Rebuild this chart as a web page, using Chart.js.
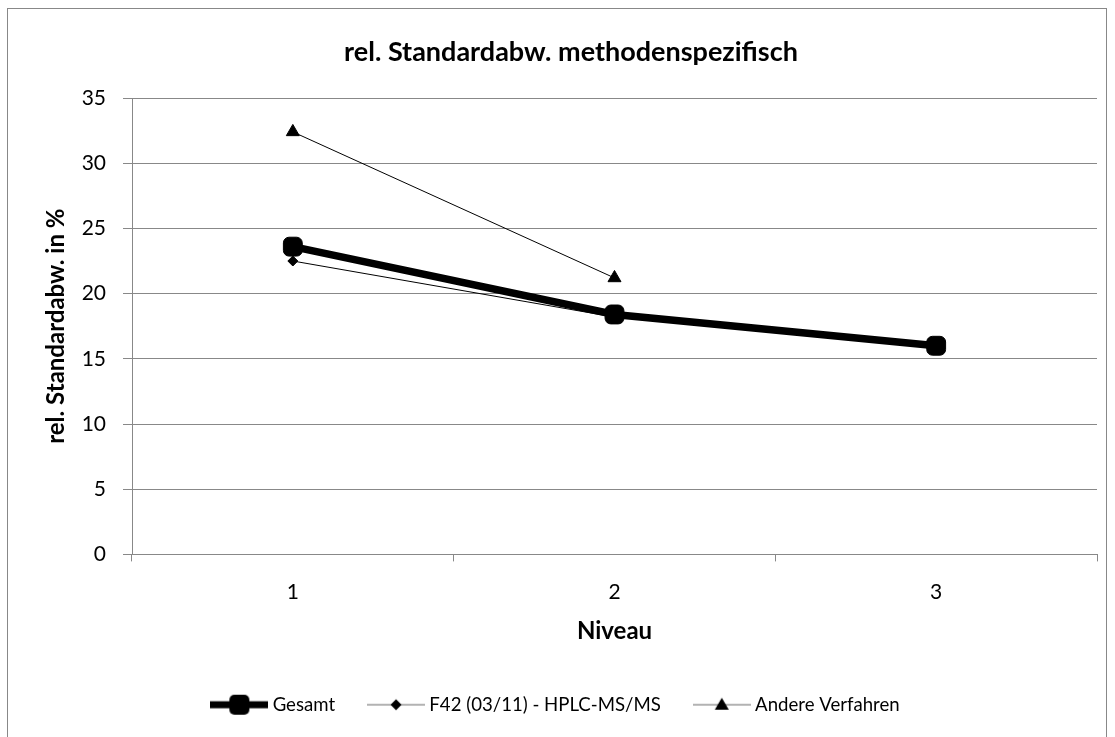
<!DOCTYPE html>
<html>
<head>
<meta charset="utf-8">
<script src="https://cdn.jsdelivr.net/npm/chart.js@4/dist/chart.umd.min.js"></script>
<style>
  html, body { margin: 0; padding: 0; background: #fff; }
  #wrap { position: relative; width: 1115px; height: 737px; overflow: hidden; }
  #frame { position: absolute; left: 7px; top: 8px; width: 1100px; height: 760px; border: 1px solid #888; box-sizing: border-box; }
  canvas { position: absolute; left: 0; top: 0; }
</style>
</head>
<body>
<div id="wrap">
  <div id="frame"></div>
  <canvas id="chart" width="1115" height="737"></canvas>
</div>
<script>
const niveaus = ["1", "2", "3"];
const gesamt = [23.6, 18.4, 16.0];
const f42 = [22.5, 18.2, null];
const andere = [32.4, 21.2, null];
const titel = "rel. Standardabw. methodenspezifisch";

const fontFam = "Lato, 'Open Sans', sans-serif";

// kleine Legenden-Symbole: Linie + Marker
function legendIcon(kind) {
  const c = document.createElement("canvas");
  c.width = 58; c.height = 22;
  const g = c.getContext("2d");
  g.strokeStyle = kind === "square" ? "#000" : "#666";
  g.lineWidth = kind === "square" ? 7 : 1;
  g.beginPath(); g.moveTo(0, 11); g.lineTo(58, 11); g.stroke();
  g.fillStyle = "#000";
  if (kind === "square") {
    g.beginPath(); g.roundRect(19, 1, 20, 20, 5); g.fill();
  } else if (kind === "diamond") {
    g.beginPath(); g.moveTo(29, 5.5); g.lineTo(34.5, 11); g.lineTo(29, 16.5); g.lineTo(23.5, 11); g.closePath(); g.fill();
  } else {
    g.beginPath(); g.moveTo(29, 4); g.lineTo(36, 16); g.lineTo(22, 16); g.closePath(); g.fill();
  }
  return c;
}

const icons = [legendIcon("square"), legendIcon("diamond"), legendIcon("triangle")];

// Titel etwas rechts von der Mitte, wie im Original
const titlePlugin = {
  id: "titelOben",
  afterDraw(chart) {
    const ctx = chart.ctx;
    ctx.save();
    ctx.font = "bold 27px " + fontFam;
    ctx.fillStyle = "#000";
    ctx.textAlign = "center";
    ctx.textBaseline = "middle";
    ctx.fillText(titel, 571, 52);
    ctx.restore();
  }
};

new Chart(document.getElementById("chart"), {
  type: "line",
  data: {
    labels: niveaus,
    datasets: [
      { label: "Gesamt", data: gesamt, borderColor: "#000", backgroundColor: "#000", borderWidth: 7.5,
        pointBorderWidth: 1, pointStyle: "rectRounded", pointRadius: 11, pointHoverRadius: 11, order: 0 },
      { label: "F42 (03/11) - HPLC-MS/MS", data: f42, borderColor: "#000", backgroundColor: "#000", borderWidth: 1,
        pointBorderWidth: 1, pointStyle: "rectRot", pointRadius: 5, pointHoverRadius: 5, order: 1 },
      { label: "Andere Verfahren", data: andere, borderColor: "#000", backgroundColor: "#000", borderWidth: 1,
        pointBorderWidth: 1, pointStyle: "triangle", pointRadius: 7.5, pointHoverRadius: 7.5, order: 2 }
    ]
  },
  options: {
    responsive: false,
    animation: false,
    layout: { padding: { left: 18, right: 18, top: 98, bottom: 13 } },
    plugins: {
      title: { display: false },
      legend: {
        position: "bottom",
        labels: {
          color: "#000", font: { family: fontFam, size: 18.6 },
          usePointStyle: true, pointStyleWidth: 48, padding: 37,
          generateLabels: (chart) => chart.data.datasets.map((ds, i) => ({
            text: ds.label, pointStyle: icons[i], fillStyle: "#000", strokeStyle: "#000",
            lineWidth: 0, hidden: false, datasetIndex: i, fontColor: "#000"
          }))
        }
      },
      tooltip: { enabled: false }
    },
    scales: {
      x: {
        offset: true,
        grid: { offset: true, drawOnChartArea: false, color: "#888", tickLength: 7 },
        border: { color: "#888" },
        ticks: { color: "#000", font: { family: fontFam, size: 21 }, padding: 18 },
        title: { display: true, text: "Niveau", color: "#000", font: { family: fontFam, size: 24, weight: "bold" }, padding: { top: 4, bottom: 12.6 } },
        afterFit: (s) => { s.height = 104; }
      },
      y: {
        min: 0, max: 35,
        ticks: { stepSize: 5, color: "#000", font: { family: fontFam, size: 21 }, padding: 17 },
        grid: { color: "#888", tickLength: 9 },
        border: { color: "#888" },
        title: { display: true, text: "rel. Standardabw. in %", color: "#000", font: { family: fontFam, size: 24, weight: "bold" }, padding: { top: 24 } },
        afterFit: (s) => { s.width = 114; }
      }
    }
  },
  plugins: [titlePlugin]
});
</script>
</body>
</html>
